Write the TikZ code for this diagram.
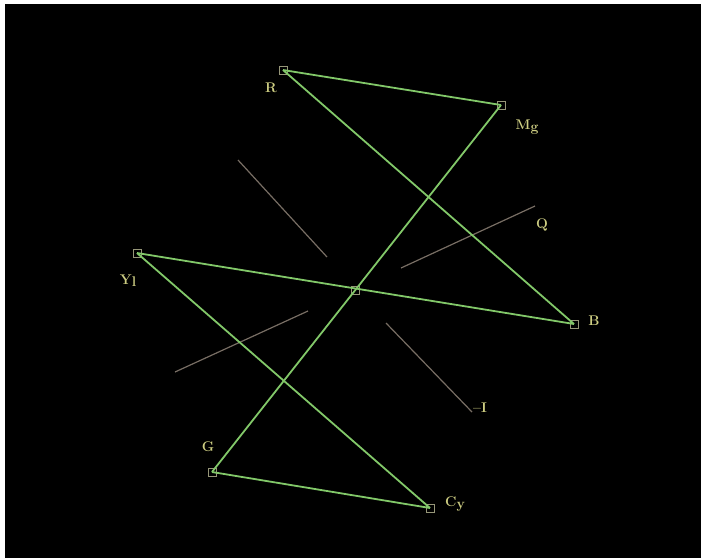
\documentclass[tikz,border=0pt]{standalone}
\usepackage{tikz}
\definecolor{vecgreen}{RGB}{130,200,105}
\definecolor{axisgrey}{RGB}{120,110,100}
\definecolor{labelyel}{RGB}{205,205,130}
\definecolor{boxgrey}{RGB}{150,150,120}
\begin{document}
\begin{tikzpicture}[x=1pt,y=-1pt,
  vec/.style={draw=vecgreen,line width=1.8pt},
  axisline/.style={draw=axisgrey,line width=1.2pt},
  pt/.style={draw=boxgrey,line width=0.9pt,minimum size=8pt,inner sep=0pt,outer sep=0pt,rectangle},
  lbl/.style={text=labelyel,font=\fontsize{14}{16}\selectfont\bfseries,inner sep=0pt}]
\useasboundingbox (0,0) rectangle (701,558);
\fill[white] (0,0) rectangle (701,558);
\fill[black] (5,4) rectangle (701,558);
% axes
\coordinate (i1) at (238,160); \coordinate (i2) at (327,257);
\coordinate (i3) at (386,323); \coordinate (i4) at (472,412);
\coordinate (q1) at (175,372); \coordinate (q2) at (308,311);
\coordinate (q3) at (401,268); \coordinate (q4) at (535,206);
\draw[axisline] (i1) -- (i2);
\draw[axisline] (i3) -- (i4);
\draw[axisline] (q1) -- (q2);
\draw[axisline] (q3) -- (q4);
% points
\node[pt] (R) at (283,70) {};
\node[pt] (Mg) at (501,105) {};
\node[pt] (Yl) at (137,253) {};
\node[pt] (C) at (355,290) {};
\node[pt] (B) at (574,324) {};
\node[pt] (G) at (212,472) {};
\node[pt] (Cy) at (430,508) {};
% vectors
\draw[vec] (R.center) -- (Mg.center);
\draw[vec] (R.center) -- (B.center);
\draw[vec] (Mg.center) -- (G.center);
\draw[vec] (Yl.center) -- (B.center);
\draw[vec] (Yl.center) -- (Cy.center);
\draw[vec] (G.center) -- (Cy.center);
% labels
\node[lbl] (lR) at (271,88) {R};
\node[lbl] (lMg) at (527,127) {M\raisebox{-2pt}{g}};
\node[lbl] (lQ) at (542,225) {Q};
\node[lbl] (lYl) at (128,281) {Y\raisebox{-2pt}{l}};
\node[lbl] (lB) at (594,321) {B};
\node[lbl] (lI) at (480,408) {--I};
\node[lbl] (lG) at (208,447) {G};
\node[lbl] (lCy) at (455,504) {C\raisebox{-2pt}{y}};
\end{tikzpicture}
\end{document}
